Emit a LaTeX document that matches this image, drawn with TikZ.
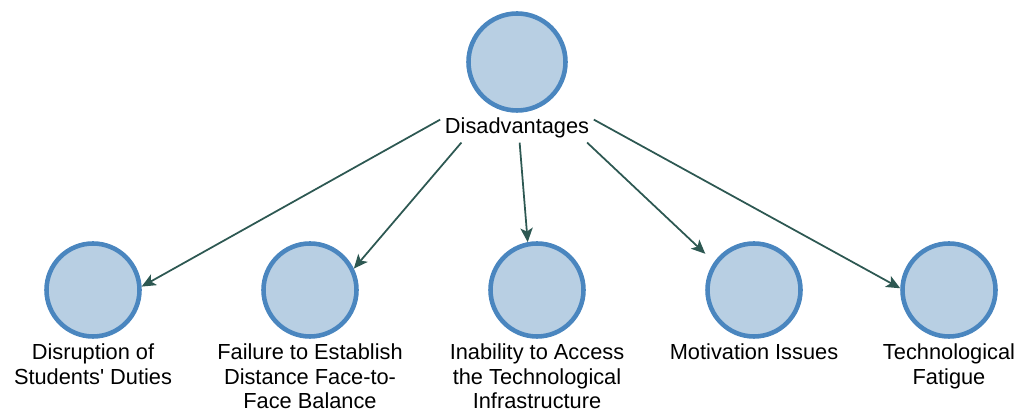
\documentclass[tikz,border=0pt]{standalone}
\usepackage{fontspec}
\setmainfont{Liberation Sans}
\usetikzlibrary{positioning,arrows.meta}
\definecolor{ringblue}{RGB}{74,134,191}
\definecolor{fillblue}{RGB}{184,207,227}
\definecolor{arrowteal}{RGB}{45,88,82}

\begin{document}
\begin{tikzpicture}[
    topic/.style={circle,draw=ringblue,fill=fillblue,line width=2.6pt,minimum size=1.86cm,inner sep=0pt},
    caption/.style={align=center,inner sep=1pt,font=\fontsize{12.4}{14.1}\selectfont},
    arr/.style={draw=arrowteal,line width=1pt,-{Stealth[length=8pt,width=7pt,inset=2pt]}}
]
    \useasboundingbox (0,0) rectangle (20.42,8.24);
    \node[topic,minimum size=1.94cm] (dis) at (10.34,7.00) {};
    \node[caption,inner sep=2.5pt,below=0pt of dis] (dislbl) {Disadvantages};
    \foreach \name/\x/\txt in {dut/1.86/{Disruption of\\Students\textquotesingle{} Duties},
                              bal/6.20/{Failure to Establish\\Distance Face-to-\\Face Balance},
                              inf/10.74/{Inability to Access\\the Technological\\Infrastructure},
                              mot/15.08/{Motivation Issues},
                              fat/18.98/{Technological\\Fatigue}}{
        \node[topic] (\name) at (\x,2.44) {};
        \node[caption,below=1.5pt of \name] (\name lbl) {\txt};
    }
    \draw[arr] (dislbl.174) -- (dut.4);
    \draw[arr] (dislbl.195) -- (bal.26);
    \draw[arr] (dislbl.280) -- (inf.101);
    \draw[arr,shorten >=0.24cm] (dislbl.348) -- (mot.145);
    \draw[arr] (dislbl.6) -- (fat.178);
\end{tikzpicture}
\end{document}
